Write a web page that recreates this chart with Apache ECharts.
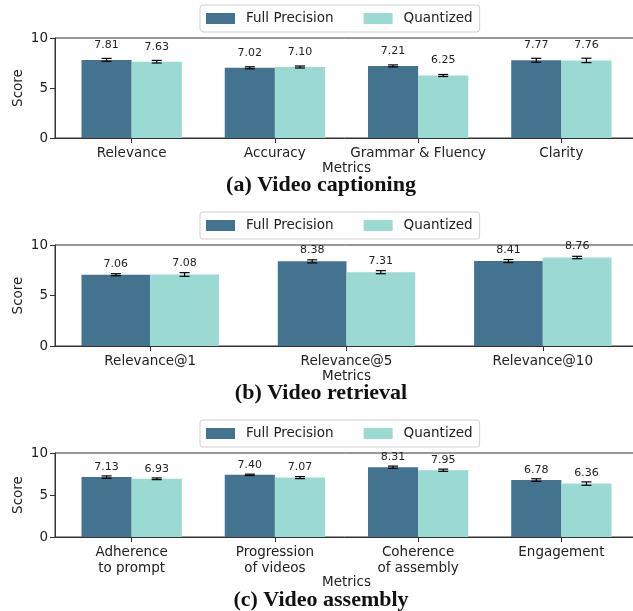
<!DOCTYPE html>
<html>
<head>
<meta charset="utf-8">
<script src="https://cdn.jsdelivr.net/npm/echarts@6/dist/echarts.min.js"></script>
<style>
html,body{margin:0;padding:0;background:#fff;}
#chart{width:633px;height:611px;}
</style>
</head>
<body>
<div id="chart"></div>
<script>
// ---- data ----
const seriesNames = ['Full Precision', 'Quantized'];
const yTicks = [0, 5, 10];

const capCats = ['Relevance', 'Accuracy', 'Grammar & Fluency', 'Clarity'];
const capFull = [7.81, 7.02, 7.21, 7.77];
const capFullErr = [0.15, 0.10, 0.10, 0.20];
const capQuant = [7.63, 7.10, 6.25, 7.76];
const capQuantErr = [0.13, 0.10, 0.10, 0.22];

const retCats = ['Relevance@1', 'Relevance@5', 'Relevance@10'];
const retFull = [7.06, 8.38, 8.41];
const retFullErr = [0.10, 0.15, 0.15];
const retQuant = [7.08, 7.31, 8.76];
const retQuantErr = [0.18, 0.15, 0.12];

const asmCats = ['Adherence\nto prompt', 'Progression\nof videos', 'Coherence\nof assembly', 'Engagement'];
const asmFull = [7.13, 7.40, 8.31, 6.78];
const asmFullErr = [0.14, 0.08, 0.13, 0.15];
const asmQuant = [6.93, 7.07, 7.95, 6.36];
const asmQuantErr = [0.10, 0.12, 0.13, 0.20];

const captions = ['(a) Video captioning', '(b) Video retrieval', '(c) Video assembly'];

// ---- styles ----
const C_FULL = '#44738f';
const C_QUANT = '#9bd9d3';
const TXT = '#222';
const FONT = 'DejaVu Sans';
const BW = 0.35;

const panels = [
  {cats: capCats, full: capFull, fullErr: capFullErr, quant: capQuant, quantErr: capQuantErr,
   top: 38, height: 100, labelOff: 15, nameGap: 23, capY: 185},
  {cats: retCats, full: retFull, fullErr: retFullErr, quant: retQuant, quantErr: retQuantErr,
   top: 245, height: 101, labelOff: 11, nameGap: 23, capY: 393},
  {cats: asmCats, full: asmFull, fullErr: asmFullErr, quant: asmQuant, quantErr: asmQuantErr,
   top: 453, height: 84, labelOff: 10, nameGap: 38, capY: 600}
];

function makeRender(off, labelOff) {
  return function (params, api) {
    const xi = api.value(0), v = api.value(1), e = api.value(2);
    const xc = xi + off;
    const p0 = api.coord([xc - BW / 2, v]);
    const p1 = api.coord([xc + BW / 2, 0]);
    const c = api.coord([xc, v]);
    const t = api.coord([xc, v + e]);
    const b = api.coord([xc, v - e]);
    const cap = 5;
    return {
      type: 'group',
      children: [
        {type: 'rect', shape: {x: p0[0], y: p0[1], width: p1[0] - p0[0], height: p1[1] - p0[1]},
         style: {fill: api.visual('color')}},
        {type: 'line', shape: {x1: c[0], y1: t[1], x2: c[0], y2: b[1]}, style: {stroke: '#000', lineWidth: 1.2}},
        {type: 'line', shape: {x1: c[0] - cap, y1: t[1], x2: c[0] + cap, y2: t[1]}, style: {stroke: '#000', lineWidth: 1.2}},
        {type: 'line', shape: {x1: c[0] - cap, y1: b[1], x2: c[0] + cap, y2: b[1]}, style: {stroke: '#000', lineWidth: 1.2}},
        {type: 'text', x: c[0], y: c[1] - labelOff, z2: 10,
         style: {text: v.toFixed(2), fontSize: 11, fontFamily: FONT, fill: TXT, align: 'center', verticalAlign: 'middle'}}
      ]
    };
  };
}

const grid = [], xAxis = [], yAxis = [], series = [], legend = [], graphic = [];
panels.forEach((p, i) => {
  const n = p.cats.length;
  const margin = 0.05 * (n - 1 + 2 * BW);
  const xmin = -BW - margin, xmax = n - 1 + BW + margin;
  const idx = p.cats.map((_, k) => k);
  grid.push({left: 55, top: p.top, width: 583, height: p.height, show: true,
             outerBoundsMode: 'none', containLabel: false,
             borderColor: '#333', borderWidth: 1, backgroundColor: 'transparent'});
  xAxis.push({
    type: 'value', gridIndex: i, min: xmin, max: xmax,
    name: 'Metrics', nameLocation: 'middle', nameGap: p.nameGap, nameMoveOverlap: false,
    nameTextStyle: {fontSize: 13.5, fontFamily: FONT, color: TXT},
    axisLine: {show: true, onZero: false, lineStyle: {color: '#333', width: 1}},
    axisTick: {show: true, length: 5, customValues: idx, lineStyle: {color: '#333'}},
    axisLabel: {show: true, customValues: idx, margin: 7, fontSize: 13.5, fontFamily: FONT, color: TXT,
                lineHeight: 16, formatter: (v) => p.cats[Math.round(v)]},
    splitLine: {show: false}
  });
  yAxis.push({
    type: 'value', gridIndex: i, min: yTicks[0], max: yTicks[yTicks.length - 1], interval: 5,
    name: 'Score', nameLocation: 'middle', nameGap: 30, nameMoveOverlap: false,
    nameTextStyle: {fontSize: 13.5, fontFamily: FONT, color: TXT},
    axisLine: {show: true, onZero: false, lineStyle: {color: '#333', width: 1}},
    axisTick: {show: true, length: 5, lineStyle: {color: '#333'}},
    axisLabel: {margin: 7, fontSize: 13.5, fontFamily: FONT, color: TXT},
    splitLine: {show: false}
  });
  series.push({
    type: 'custom', name: seriesNames[0], xAxisIndex: i, yAxisIndex: i,
    itemStyle: {color: C_FULL},
    renderItem: makeRender(-BW / 2, p.labelOff),
    encode: {x: 0, y: 1},
    data: p.full.map((v, k) => [k, v, p.fullErr[k]])
  });
  series.push({
    type: 'custom', name: seriesNames[1], xAxisIndex: i, yAxisIndex: i,
    itemStyle: {color: C_QUANT},
    renderItem: makeRender(BW / 2, p.labelOff),
    encode: {x: 0, y: 1},
    data: p.quant.map((v, k) => [k, v, p.quantErr[k]])
  });
  legend.push({
    data: seriesNames, left: 200, top: p.top - 33, orient: 'horizontal',
    icon: 'rect', itemWidth: 29, itemHeight: 11, itemGap: 30,
    padding: [6, 7, 6, 6], borderColor: '#d0d0d0', borderWidth: 1, borderRadius: 3,
    textStyle: {fontSize: 13.5, fontFamily: FONT, color: TXT, padding: [0, 0, 0, 6], lineHeight: 15},
    selectedMode: false
  });
  graphic.push({
    type: 'text', x: 321, y: p.capY,
    style: {text: captions[i], font: 'bold 22px "Liberation Serif"', fill: '#111', align: 'center', verticalAlign: 'middle'}
  });
});

const chart = echarts.init(document.getElementById('chart'), null, {renderer: 'canvas'});
chart.setOption({
  backgroundColor: '#fff',
  animation: false,
  grid, xAxis, yAxis, series, legend, graphic
});
</script>
</body>
</html>
